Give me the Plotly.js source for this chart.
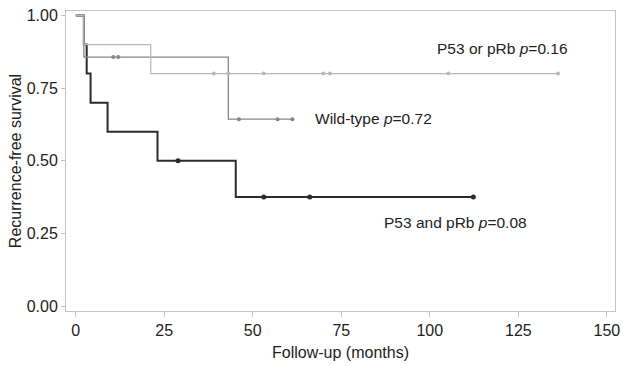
<!DOCTYPE html>
<html>
<head>
<meta charset="utf-8">
<script src="https://cdn.plot.ly/plotly-3.0.1.min.js"></script>
<style>html,body{margin:0;padding:0;background:#fff;}#chart{width:622px;height:366px;}</style>
</head>
<body>
<div id="chart"></div>
<script>
// P53 and pRb (black)
const bothTimes = [0, 2.3, 3.1, 4.2, 9.0, 23.1, 45.2, 112.3];
const bothSurv  = [1.0, 0.9, 0.8, 0.7, 0.6, 0.5, 0.375, 0.375];
const bothCensor = [28.9, 53.1, 66.1, 112.3];

// Wild-type (mid grey)
const wildTimes = [0, 2.3, 43.1, 61.2];
const wildSurv  = [1.0, 0.857, 0.643, 0.643];
const wildCensor = [10.6, 12.0, 46.1, 57.0, 61.2];

// P53 or pRb (light grey)
const eitherTimes = [0, 2.3, 21.2, 136.2];
const eitherSurv  = [1.0, 0.9, 0.8, 0.8];
const eitherCensor = [39.0, 43.1, 53.1, 69.9, 71.8, 105.2, 136.2];

const xTicks = [0, 25, 50, 75, 100, 125, 150];
const yTicks = [0, 0.25, 0.5, 0.75, 1.0];
const yTickText = ["0.00", "0.25", "0.50", "0.75", "1.00"];

function stepAt(times, surv, t) {
  let v = surv[0];
  for (let i = 0; i < times.length; i++) { if (times[i] <= t) v = surv[i]; }
  return v;
}

function curve(times, surv, censor, color, width, msize) {
  return [
    {x: times, y: surv, mode: 'lines', line: {shape: 'hv', color: color, width: width}, hoverinfo: 'skip', showlegend: false},
    {x: censor, y: censor.map(t => stepAt(times, surv, t)), mode: 'markers',
     marker: {symbol: 'circle', size: msize, color: color}, showlegend: false}
  ];
}

const traces = [
  ...curve(bothTimes, bothSurv, bothCensor, '#2b2b2b', 2, 5),
  ...curve(wildTimes, wildSurv, wildCensor, '#878787', 1.3, 4),
  ...curve(eitherTimes, eitherSurv, eitherCensor, '#b8b8b8', 1.2, 4)
];

const fam = 'Liberation Sans, Arial, sans-serif';
const txt = '#222';

const layout = {
  width: 622, height: 366,
  margin: {l: 66, r: 7, t: 11, b: 55},
  paper_bgcolor: '#fff', plot_bgcolor: '#fff',
  font: {family: fam, size: 16, color: txt},
  xaxis: {
    range: [-2.74, 152.3], tickvals: xTicks, ticktext: xTicks.map(String),
    showgrid: false, zeroline: false, showline: true, mirror: true,
    linecolor: '#c4c4c4', linewidth: 1,
    ticks: 'outside', ticklen: 5, tickcolor: '#c4c4c4',
    tickfont: {family: fam, size: 16, color: txt},
    title: {text: 'Follow-up (months)', font: {family: fam, size: 16, color: txt}, standoff: 8}
  },
  yaxis: {
    range: [-0.0172, 1.0155], tickvals: yTicks, ticktext: yTickText,
    showgrid: false, zeroline: false, showline: true, mirror: true,
    linecolor: '#c4c4c4', linewidth: 1,
    ticks: 'outside', ticklen: 4, tickcolor: '#c4c4c4',
    tickfont: {family: fam, size: 16, color: txt},
    title: {text: 'Recurrence-free survival', font: {family: fam, size: 16, color: txt}, standoff: 1}
  },
  annotations: [
    {x: 101.4, y: 0.887, xref: 'x', yref: 'y', text: 'P53 or pRb <i>p</i>=0.16', showarrow: false, xanchor: 'left', yanchor: 'middle', font: {family: fam, size: 15.5, color: txt}},
    {x: 66.9, y: 0.646, xref: 'x', yref: 'y', text: 'Wild-type <i>p</i>=0.72', showarrow: false, xanchor: 'left', yanchor: 'middle', font: {family: fam, size: 15.5, color: txt}},
    {x: 86.4, y: 0.287, xref: 'x', yref: 'y', text: 'P53 and pRb <i>p</i>=0.08', showarrow: false, xanchor: 'left', yanchor: 'middle', font: {family: fam, size: 15.5, color: txt}}
  ]
};

Plotly.newPlot('chart', traces, layout, {displayModeBar: false, staticPlot: true});
</script>
</body>
</html>
